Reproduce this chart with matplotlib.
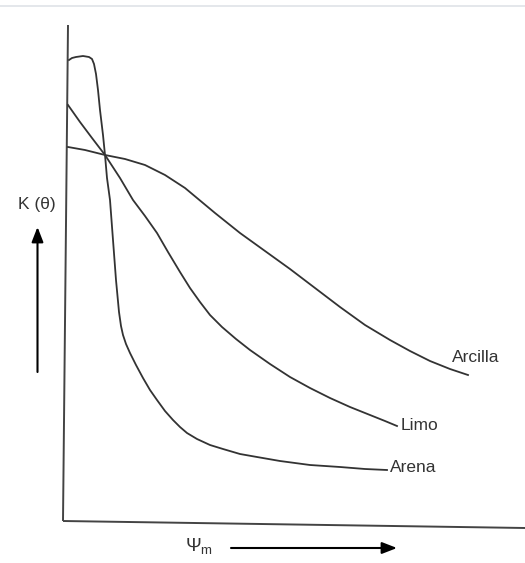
import matplotlib
matplotlib.use("Agg")
import matplotlib.pyplot as plt

plt.rcParams['font.family'] = ['Liberation Sans', 'DejaVu Sans']
plt.rcParams['mathtext.fontset'] = 'custom'
plt.rcParams['mathtext.rm'] = 'Liberation Sans'

# Curves (pixel-space coordinates: x to the right, y downward)
arena_x = [69, 72, 76, 83, 89, 92, 94, 96, 98, 100, 103, 105, 107, 110, 113, 116, 119, 121, 123, 126, 130, 136, 143, 150, 157, 165, 173, 180, 187, 197, 210, 223, 240, 257, 280, 310, 340, 365, 387]
arena_y = [60, 58, 57, 56, 57, 59, 64, 74, 90, 110, 135, 155, 178, 200, 240, 280, 312, 326, 335, 344, 353, 365, 378, 390, 400, 411, 420, 427, 433, 439, 445, 449, 454, 457, 461, 465, 467, 469, 470]

limo_x = [68, 80, 92, 105, 120, 133, 145, 157, 168, 180, 190, 200, 210, 222, 236, 250, 270, 290, 310, 330, 350, 370, 385, 397]
limo_y = [105, 122, 138, 155, 178, 200, 216, 233, 252, 272, 288, 302, 315, 327, 339, 350, 364, 377, 388, 398, 407, 415, 421, 426]

arcilla_x = [68, 85, 105, 125, 145, 165, 185, 197, 215, 240, 265, 290, 315, 340, 365, 390, 410, 430, 450, 468]
arcilla_y = [147, 150, 155, 159, 165, 175, 188, 198, 213, 233, 251, 269, 288, 307, 325, 340, 351, 361, 369, 375]

labels = ["Arcilla", "Limo", "Arena"]
label_x = [452, 401, 390]
label_y = [358, 425, 468]

# Axis lines
vaxis_x = [68, 63]
vaxis_y = [25, 521]
haxis_x = [63, 525]
haxis_y = [521, 528]

fig = plt.figure(figsize=(5.25, 5.63), dpi=100)
ax = fig.add_axes([0, 0, 1, 1])
ax.set_xlim(0, 525)
ax.set_ylim(563, 0)
ax.axis('off')

col = '#333333'
ax.plot([0, 525], [6, 6], color='#dfe3e8', lw=1.2)
ax.plot(vaxis_x, vaxis_y, color='#444444', lw=1.4, solid_capstyle='butt')
ax.plot(haxis_x, haxis_y, color='#444444', lw=1.4, solid_capstyle='butt')

ax.plot(arena_x, arena_y, color=col, lw=1.3)
ax.plot(limo_x, limo_y, color=col, lw=1.3)
ax.plot(arcilla_x, arcilla_y, color=col, lw=1.3)

for t, x, y in zip(labels, label_x, label_y):
    ax.text(x, y, t, fontsize=12.5, color='#333333', ha='left', va='center')

ax.text(18, 205, "K (θ)", fontsize=12.5, color='#333333', ha='left', va='center')
ax.annotate('', xy=(37.5, 227), xytext=(37.5, 372),
            arrowprops=dict(arrowstyle='-|>,head_width=0.35,head_length=0.9',
                            color='black', lw=1.5, shrinkA=0, shrinkB=0))

ax.text(185, 547, r"Ψ$_{\mathregular{m}}$", fontsize=13.5, color='#333333',
        ha='left', va='center')
ax.annotate('', xy=(397, 548), xytext=(231, 548),
            arrowprops=dict(arrowstyle='-|>,head_width=0.35,head_length=0.9',
                            color='black', lw=1.5, shrinkA=0, shrinkB=0))

fig.savefig('out.png', dpi=100)
